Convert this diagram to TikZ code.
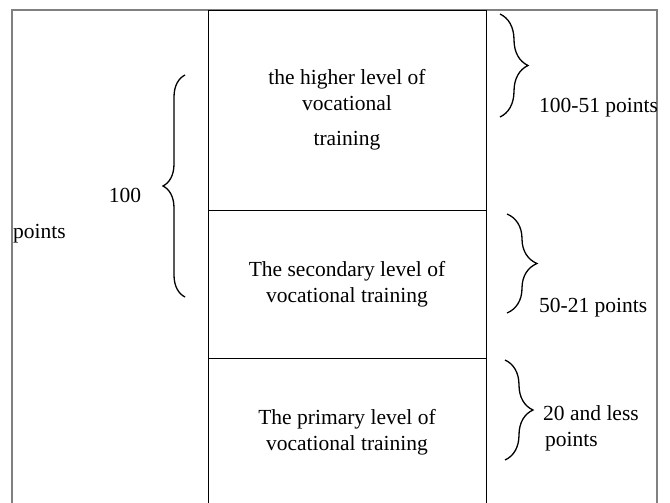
\documentclass[tikz,border=0pt]{standalone}
\usepackage{fontspec}
\setmainfont{Liberation Serif}
\usepackage{tikz}
\usetikzlibrary{decorations.pathreplacing, positioning}

\begin{document}
\begin{tikzpicture}[
    x=1pt, y=1pt,
    font=\fontsize{21.5}{26}\selectfont,
    cell/.style={draw, line width=0.9pt, minimum width=278pt, inner sep=0pt, align=center},
    lbl/.style={inner sep=0pt, align=left},
    brc/.style={decorate, decoration={brace, amplitude=#1}, line width=1.3pt},
    brc/.default=28pt
]
    \useasboundingbox (0,0) rectangle (670,-503);

    % Frame
    \draw[black!50, line width=1.5pt] (12,-503) |- (657,-10) -- (657,-503);

    % Levels
    \node[cell, minimum height=200pt] (higher) at (347,-110) {the higher level of\\vocational\\[9pt]training};
    \node[cell, minimum height=148pt] (secondary) at (347,-284) {The secondary level of\\vocational training};
    \node[cell, minimum height=148pt] (primary) at (347,-432) {The primary level of\\vocational training};

    % Total
    \coordinate (totbot) at (185,-297);
    \coordinate (tottop) at (185,-75);
    \draw[brc=22pt] (totbot) -- (tottop);
    \node[lbl] (hundred) at (125,-195) {100};
    \node[lbl, anchor=west] (totpts) at (13,-234) {points};

    % Ranges
    \coordinate (hitop) at (500,-14);
    \coordinate (hibot) at (500,-117);
    \coordinate (setop) at (507,-214);
    \coordinate (sebot) at (507,-313);
    \coordinate (prtop) at (505,-360);
    \coordinate (prbot) at (505,-460);
    \draw[brc] (hitop) -- (hibot);
    \draw[brc=30pt] (setop) -- (sebot);
    \draw[brc] (prtop) -- (prbot);
    \node[lbl, anchor=west] (hipts) at (539,-108) {100-51 points};
    \node[lbl, anchor=west] (septs) at (539,-308) {50-21 points};
    \node[lbl, anchor=west] (prpts) at (543,-428) {20 and less\\\hspace{2pt}points};
\end{tikzpicture}
\end{document}
